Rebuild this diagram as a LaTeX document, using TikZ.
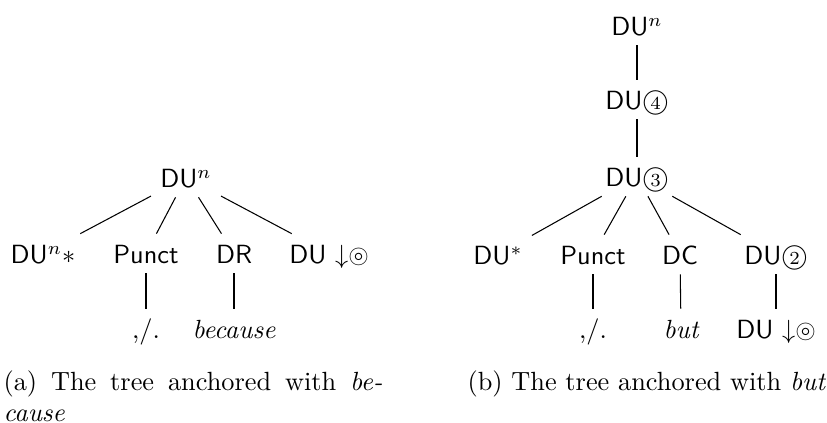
\documentclass[tikz,border=0pt]{standalone}
\usepackage{amsmath}
\usepackage{amssymb}
\usepackage{tikz}

\newcommand{\circnum}[1]{\textcircled{\rmfamily\scriptsize #1}}
\newcommand{\substdown}{${\downarrow}{\circledcirc}$}

\begin{document}
\begin{tikzpicture}[x=0.38pt,y=-0.38pt,
  tnode/.style={font=\sffamily,text height=8pt,text depth=0pt,anchor=base},
  capt/.style={inner sep=0pt,anchor=north west}]
\useasboundingbox (0,0) rectangle (827,423);
% (a) tree anchored with because
\node[tnode] (aroot) at (186,188) {DU$^n$};
\node[tnode] (adu) at (43,264) {DU$^n{\ast}$};
\node[tnode] (apunct) at (146,264) {Punct};
\node[tnode] (adr) at (234,264) {DR};
\node[tnode] (asub) at (329,264) {DU \substdown};
\node[tnode] (apl) at (146,339) {\rmfamily ,/.};
\node[tnode] (abec) at (234,339) {\rmfamily\itshape because};
\draw (aroot) -- (adu);
\draw (aroot) -- (apunct);
\draw (aroot) -- (adr);
\draw (aroot) -- (asub);
\draw (apunct) -- (apl);
\draw (adr) -- (abec);
\node[capt,text width=144pt,align=justify] (capa) at (3,370)
  {(a) The tree anchored with \textit{be-}\linebreak\textit{cause}};
% (b) tree anchored with but
\node[tnode] (broot) at (637,36) {DU$^n$};
\node[tnode] (bfour) at (637,110) {DU\circnum{4}};
\node[tnode] (bthree) at (637,187) {DU\circnum{3}};
\node[tnode] (bdu) at (498,265) {DU$^*$};
\node[tnode] (bpunct) at (593,265) {Punct};
\node[tnode] (bdc) at (680,265) {DC};
\node[tnode] (btwo) at (776,265) {DU\circnum{2}};
\node[tnode] (bpl) at (593,339) {\rmfamily ,/.};
\node[tnode] (bbut) at (681,339) {\rmfamily\itshape but};
\node[tnode] (bsub) at (776,339) {DU \substdown};
\draw (broot) -- (bfour);
\draw (bfour) -- (bthree);
\draw (bthree) -- (bdu);
\draw (bthree) -- (bpunct);
\draw (bthree) -- (bdc);
\draw (bthree) -- (btwo);
\draw (bpunct) -- (bpl);
\draw (bdc) -- (bbut);
\draw (btwo) -- (bsub);
\node[capt] (capb) at (467,370) {(b) The tree anchored with \textit{but}};
\end{tikzpicture}
\end{document}
